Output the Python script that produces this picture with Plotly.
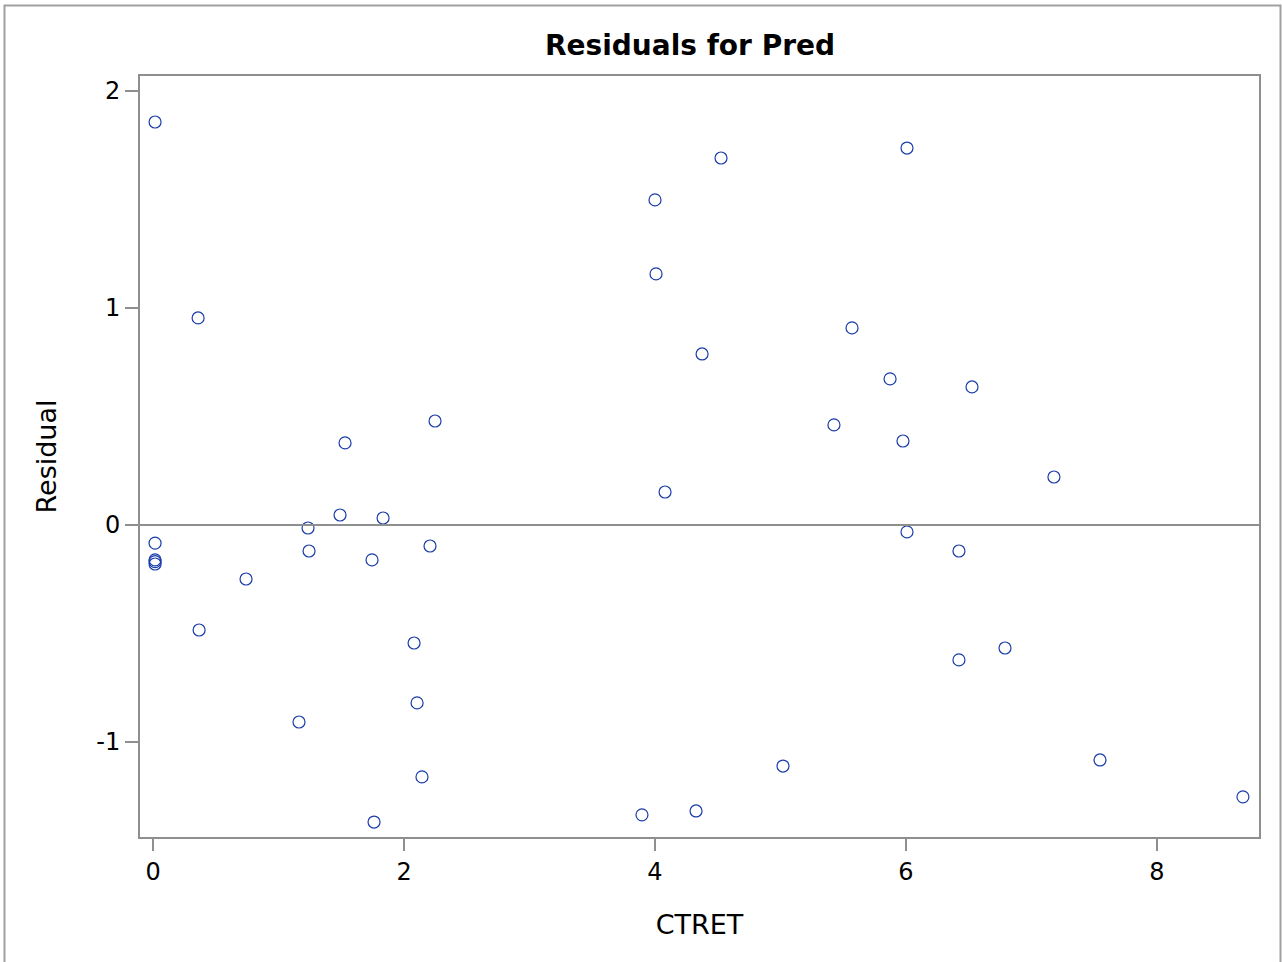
import plotly.graph_objects as go

ctret = [0.016, 0.359, 0.016, 0.016, 0.016, 0.016, 0.367, 0.741, 1.163, 1.235,
         1.243, 1.49, 1.53, 1.745, 1.761, 1.833, 2.08, 2.104, 2.143, 2.207,
         2.247, 3.896, 4.0, 4.008, 4.08, 4.327, 4.375, 4.526, 5.02, 5.426,
         5.57, 5.873, 5.976, 6.008, 6.008, 6.422, 6.422, 6.526, 6.789, 7.179,
         7.546, 8.685]
residual = [1.857, 0.954, -0.084, -0.161, -0.169, -0.180, -0.484, -0.249, -0.908, -0.014,
            -0.120, 0.046, 0.378, -0.161, -1.369, 0.032, -0.544, -0.820, -1.161, -0.097,
            0.479, -1.336, 1.498, 1.157, 0.152, -1.318, 0.788, 1.691, -1.111, 0.461,
            0.908, 0.673, 0.387, 1.737, -0.032, -0.120, -0.622, 0.636, -0.567, 0.221,
            -1.083, -1.253]
x_ticks = [0, 2, 4, 6, 8]
x_ticktext = ["0", "2", "4", "6", "8"]
y_ticks = [-1, 0, 1, 2]
y_ticktext = ["-1", "0", "1", "2"]

FONT = "DejaVu Sans, Verdana, sans-serif"
GREY = "#8f8f8f"

fig = go.Figure()
fig.add_trace(go.Scatter(
    x=ctret, y=residual, mode="markers",
    marker=dict(symbol="circle-open", size=12, color="#1a3caa", line=dict(width=1.2)),
    showlegend=False,
))
fig.add_hline(y=0, line=dict(color=GREY, width=2))

L, R, T, B = 140, 1259, 76, 837
W, H = 1282, 962
pw, ph = R - L, B - T
fig.add_shape(type="rect", xref="paper", yref="paper",
              x0=(4.5 - L) / pw, x1=(1280.5 - L) / pw,
              y0=(B - 990) / ph, y1=(B - 5.5) / ph,
              line=dict(color="#a0a0a0", width=2), fillcolor="rgba(0,0,0,0)", layer="below")

fig.update_layout(
    width=W, height=H,
    margin=dict(l=L, r=W - R, t=T, b=H - B),
    paper_bgcolor="white", plot_bgcolor="white",
    font=dict(family=FONT, size=24, color="black"),
    title=dict(text="<b>Residuals for Pred</b>", x=690 / W, xanchor="center",
               y=1 - 45 / H, yanchor="middle", yref="container",
               font=dict(family=FONT, size=28, color="black")),
    xaxis=dict(range=[-0.104, 8.813], tickvals=x_ticks, ticktext=x_ticktext,
               ticks="outside", ticklen=12,
               tickwidth=2, tickcolor=GREY, showgrid=False, zeroline=False,
               showline=True, linecolor=GREY, linewidth=2, mirror=True,
               title=dict(text="CTRET", standoff=30, font=dict(size=27)),
               tickfont=dict(size=24)),
    yaxis=dict(range=[-1.438, 2.069], tickvals=y_ticks, ticktext=y_ticktext,
               ticks="outside", ticklen=13,
               tickwidth=2, tickcolor=GREY, showgrid=False, zeroline=False,
               showline=True, linecolor=GREY, linewidth=2, mirror=True,
               title=dict(text="Residual", standoff=32, font=dict(size=27)),
               tickfont=dict(size=24)),
)

fig.write_html("out.html", config={"displayModeBar": False},
               post_script="document.body.style.margin='0';")
